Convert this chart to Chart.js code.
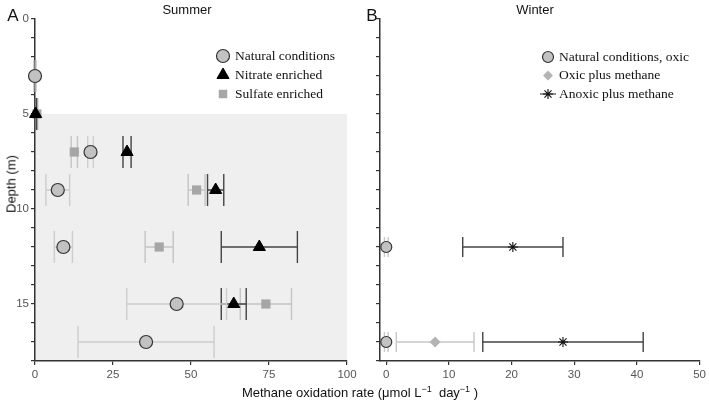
<!DOCTYPE html>
<html>
<head>
<title>Methane oxidation rate - Summer / Winter</title>
<script src="https://cdn.jsdelivr.net/npm/chart.js"></script>
<style>
    body {
        margin: 0;
        background: #fff;
        font-family: "Liberation Sans", Arial, sans-serif;
    }

    .wrap {
        position: relative;
        width: 709px;
        height: 403px;
    }

    canvas {
        position: absolute;
        top: 0;
    }

    #summer { left: 0; }
    #winter { left: 345px; }

    .txt {
        position: absolute;
        color: #111;
        white-space: nowrap;
        transform: translate(-50%, -50%);
    }

    .panel-title { font-size: 13px; }
    .panel-letter { font-size: 17px; }
    .xtitle { font-size: 13px; }
    .xtitle sup { font-size: 9px; }
    .ytitle { font-size: 13px; transform: translate(-50%, -50%) rotate(-90deg); }
</style>
</head>
<body>
<div class="wrap">
    <canvas id="summer" width="360" height="385"></canvas>
    <canvas id="winter" width="364" height="385"></canvas>
    <div class="txt panel-letter" style="left:13px; top:16px;">A</div>
    <div class="txt panel-letter" style="left:372px; top:16px;">B</div>
    <div class="txt panel-title" style="left:187px; top:9px;">Summer</div>
    <div class="txt panel-title" style="left:535px; top:9px;">Winter</div>
    <div class="txt ytitle" style="left:11px; top:184px;">Depth (m)</div>
    <div class="txt xtitle" style="left:360px; top:392px;">Methane oxidation rate (&mu;mol L<sup>&minus;1</sup>&nbsp; day<sup>&minus;1</sup> )</div>
</div>

<script>
    // ---- data ----
    // Summer (panel A)
    const naturalDepth = [3, 7, 9, 12, 15, 17];
    const naturalRate = [0, 17.8, 7.3, 9.1, 45.4, 35.6];
    const naturalErr = [0.4, 0.9, 3.8, 2.9, 16, 21.8];

    const nitrateDepth = [5, 7, 9, 12, 15];
    const nitrateRate = [0.2, 29.5, 57.9, 71.9, 63.7];
    const nitrateErr = [0.3, 1.3, 2.6, 12.2, 4];

    const sulfateDepth = [5, 7, 9, 12, 15];
    const sulfateRate = [0.6, 12.6, 51.8, 39.8, 74];
    const sulfateErr = [0.3, 1, 2.7, 4.5, 8.2];

    // Winter (panel B)
    const oxicDepth = [12, 17];
    const oxicRate = [0, 0];
    const oxicErr = [0.3, 0.3];

    const methaneDepth = [17];
    const methaneRate = [7.8];
    const methaneErr = [6.2];

    const anoxicDepth = [12, 17];
    const anoxicRate = [20.2, 28.2];
    const anoxicErr = [8, 12.8];

    // axes
    const depthTicks = [0, 1, 2, 3, 4, 5, 6, 7, 8, 9, 10, 11, 12, 13, 14, 15, 16, 17, 18];
    const depthLabels = [0, 5, 10, 15];
    const summerXTicks = [0, 25, 50, 75, 100];
    const winterXTicks = [0, 10, 20, 30, 40, 50];
    const shadeFromDepth = 5;

    function pts(depth, rate) {
        return depth.map((d, i) => ({ x: rate[i], y: d }));
    }

    // shaded zone in summer panel
    const shadePlugin = {
        id: 'shade',
        beforeDraw(chart, args, opts) {
            if (!opts.on) return;
            const { x, y } = chart.scales;
            const ctx = chart.ctx;
            const x0 = x.getPixelForValue(x.min), x1 = x.getPixelForValue(x.max);
            const y0 = y.getPixelForValue(shadeFromDepth), y1 = y.getPixelForValue(y.max);
            ctx.save();
            ctx.fillStyle = '#efefef';
            ctx.fillRect(x0, y0, x1 - x0, y1 - y0);
            ctx.restore();
        }
    };

    // horizontal error bars, drawn under each dataset's markers
    const errorBarPlugin = {
        id: 'errorBars',
        beforeDatasetDraw(chart, args, opts) {
            const ds = chart.data.datasets[args.index];
            if (!ds.err) return;
            const { x, y } = chart.scales;
            const ctx = chart.ctx;
            const cap = opts.cap || 10;
            ctx.save();
            ctx.strokeStyle = ds.errColor;
            ctx.lineWidth = 1.4;
            ds.data.forEach((p, i) => {
                const xa = x.getPixelForValue(p.x - ds.err[i]);
                const xb = x.getPixelForValue(p.x + ds.err[i]);
                const py = y.getPixelForValue(p.y);
                ctx.beginPath();
                ctx.moveTo(xa, py); ctx.lineTo(xb, py);
                ctx.moveTo(xa, py - cap); ctx.lineTo(xa, py + cap);
                ctx.moveTo(xb, py - cap); ctx.lineTo(xb, py + cap);
                ctx.stroke();
            });
            ctx.restore();
        }
    };

    // serif legend drawn inside the plot
    const legendPlugin = {
        id: 'innerLegend',
        afterDraw(chart, args, opts) {
            const ctx = chart.ctx;
            ctx.save();
            ctx.font = '13.5px "Liberation Serif", "Times New Roman", serif';
            ctx.textBaseline = 'middle';
            chart.data.datasets.forEach((ds, i) => {
                const mx = opts.x, my = opts.y + i * opts.gap;
                if (ds.legendLine) {
                    ctx.strokeStyle = ds.errColor;
                    ctx.lineWidth = 1.2;
                    ctx.beginPath();
                    ctx.moveTo(mx - 8, my); ctx.lineTo(mx + 8, my);
                    ctx.stroke();
                }
                ctx.fillStyle = ds.backgroundColor;
                ctx.strokeStyle = ds.borderColor;
                ctx.lineWidth = ds.borderWidth;
                Chart.helpers.drawPoint(ctx, {
                    pointStyle: ds.pointStyle,
                    radius: ds.legendRadius || ds.pointRadius,
                    rotation: 0,
                    borderWidth: ds.borderWidth
                }, mx, my);
                ctx.fillStyle = '#111';
                ctx.fillText(ds.label, mx + opts.textGap, my);
            });
            ctx.restore();
        }
    };

    function axes(xMin, xMax, xTicks, showDepthLabels) {
        return {
            x: {
                type: 'linear',
                min: xMin,
                max: xMax,
                afterBuildTicks: s => { s.ticks = xTicks.map(v => ({ value: v })); },
                afterFit: s => { s.height = 24; },
                grid: { drawOnChartArea: false, drawTicks: true, tickLength: 4, color: '#333', lineWidth: 1.2 },
                border: { color: '#333', width: 1.5 },
                ticks: {
                    color: '#555',
                    padding: 3,
                    font: { family: '"Liberation Sans", Arial, sans-serif', size: 11.5 }
                }
            },
            y: {
                type: 'linear',
                reverse: true,
                min: 0,
                max: 18,
                z: 1,
                afterBuildTicks: s => { s.ticks = depthTicks.map(v => ({ value: v })); },
                afterFit: s => { s.width = 35; },
                grid: { drawOnChartArea: false, drawTicks: true, tickLength: 4, color: '#333', lineWidth: 1.2 },
                border: { color: '#333', width: 1.5 },
                ticks: {
                    color: '#555',
                    padding: 2,
                    font: { family: '"Liberation Sans", Arial, sans-serif', size: 11.5 },
                    callback: v => (showDepthLabels && depthLabels.includes(v)) ? v : ''
                }
            }
        };
    }

    const baseOptions = {
        responsive: false,
        animation: false,
        events: [],
        plugins: {
            legend: { display: false },
            tooltip: { enabled: false }
        }
    };

    new Chart(document.getElementById('summer'), {
        type: 'scatter',
        data: {
            datasets: [{
                label: 'Natural conditions',
                data: pts(naturalDepth, naturalRate),
                err: naturalErr,
                errColor: '#cdcdcd',
                pointStyle: 'circle',
                pointRadius: 6.5,
                legendRadius: 6.5,
                backgroundColor: '#c2c2c2',
                borderColor: '#333',
                borderWidth: 1.2,
                clip: false
            }, {
                label: 'Nitrate enriched',
                data: pts(nitrateDepth, nitrateRate),
                err: nitrateErr,
                errColor: '#444',
                pointStyle: 'triangle',
                pointRadius: 7,
                legendRadius: 7,
                backgroundColor: '#000',
                borderColor: '#000',
                borderWidth: 1,
                clip: false
            }, {
                label: 'Sulfate enriched',
                data: pts(sulfateDepth, sulfateRate),
                err: sulfateErr,
                errColor: '#c4c4c4',
                pointStyle: 'rect',
                pointRadius: 6.5,
                legendRadius: 6,
                backgroundColor: '#a6a6a6',
                borderColor: '#a6a6a6',
                borderWidth: 0,
                clip: false
            }]
        },
        options: Object.assign({}, baseOptions, {
            layout: { padding: { top: 19, right: 13, bottom: 0, left: 0 } },
            scales: axes(0, 100, summerXTicks, true),
            plugins: Object.assign({}, baseOptions.plugins, {
                shade: { on: true },
                errorBars: { cap: 16 },
                innerLegend: { x: 223, y: 56, gap: 19, textGap: 12 }
            })
        }),
        plugins: [shadePlugin, errorBarPlugin, legendPlugin]
    });

    new Chart(document.getElementById('winter'), {
        type: 'scatter',
        data: {
            datasets: [{
                label: 'Natural conditions, oxic',
                data: pts(oxicDepth, oxicRate),
                err: oxicErr,
                errColor: '#c8c8c8',
                pointStyle: 'circle',
                pointRadius: 5.5,
                legendRadius: 5.5,
                backgroundColor: '#c2c2c2',
                borderColor: '#333',
                borderWidth: 1.2,
                clip: false
            }, {
                label: 'Oxic plus methane',
                data: pts(methaneDepth, methaneRate),
                err: methaneErr,
                errColor: '#c8c8c8',
                pointStyle: 'rectRot',
                pointRadius: 5.5,
                legendRadius: 5,
                backgroundColor: '#b4b4b4',
                borderColor: '#b4b4b4',
                borderWidth: 0,
                clip: false
            }, {
                label: 'Anoxic plus methane',
                data: pts(anoxicDepth, anoxicRate),
                err: anoxicErr,
                errColor: '#444',
                legendLine: true,
                pointStyle: 'star',
                pointRadius: 5,
                legendRadius: 5,
                backgroundColor: '#111',
                borderColor: '#111',
                borderWidth: 1.1,
                clip: false
            }]
        },
        options: Object.assign({}, baseOptions, {
            layout: { padding: { top: 19, right: 9, bottom: 0, left: 0 } },
            scales: axes(-1, 50, winterXTicks, false),
            plugins: Object.assign({}, baseOptions.plugins, {
                shade: { on: false },
                errorBars: { cap: 10 },
                innerLegend: { x: 203, y: 57, gap: 18.5, textGap: 11 }
            })
        }),
        plugins: [shadePlugin, errorBarPlugin, legendPlugin]
    });
</script>
</body>
</html>
